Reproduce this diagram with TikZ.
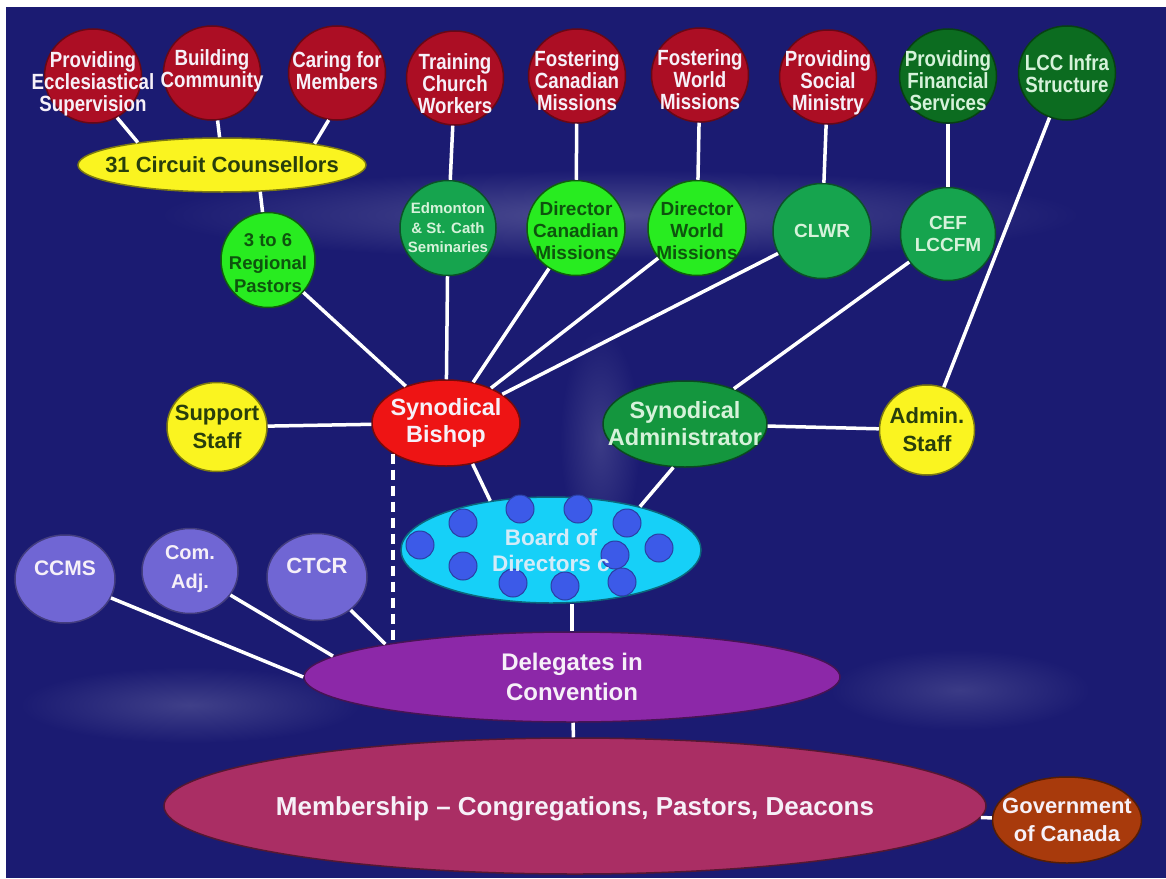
\documentclass[tikz,border=0pt]{standalone}
\usepackage{fontspec}
\setmainfont{Liberation Sans}
\newfontfamily\nar{Liberation Sans}[FakeStretch=0.85]
\usetikzlibrary{shapes.geometric,calc}
\definecolor{bg}{RGB}{27,27,114}
\definecolor{redc}{RGB}{172,14,36}
\definecolor{dkgreen}{RGB}{12,108,32}
\definecolor{yel}{RGB}{250,244,32}
\definecolor{brgreen}{RGB}{40,236,32}
\definecolor{mdgreen}{RGB}{22,164,78}
\definecolor{bishred}{RGB}{238,20,20}
\definecolor{admgreen}{RGB}{20,150,62}
\definecolor{cyanb}{RGB}{22,208,248}
\definecolor{dotc}{RGB}{60,90,232}
\definecolor{purc}{RGB}{112,102,212}
\definecolor{delc}{RGB}{140,40,168}
\definecolor{memc}{RGB}{170,46,100}
\definecolor{govc}{RGB}{168,58,12}
\definecolor{txw}{RGB}{246,240,248}
\definecolor{txpale}{RGB}{214,242,218}
\definecolor{txdk}{RGB}{14,84,14}
\definecolor{txyel}{RGB}{40,62,12}
\newcommand\ftop{\nar\bfseries\fontsize{22}{22}\selectfont}
\newcommand\fsec{\bfseries\fontsize{19}{22}\selectfont}
\newcommand\fedm{\bfseries\fontsize{15}{19.5}\selectfont}
\newcommand\fmid{\bfseries\fontsize{23.5}{27}\selectfont}
\newcommand\fstaff{\bfseries\fontsize{22}{28}\selectfont}
\tikzset{
  bub/.style={ellipse, inner sep=0pt, line width=1.5pt},
  lbl/.style={align=center, inner sep=0pt},
  conn/.style={draw=white, line width=3.5pt},
  dotstyle/.style={fill=dotc, draw=dotc!70!black, line width=1pt},
}
\begin{document}
\begin{tikzpicture}[x=1pt,y=-1pt]
\useasboundingbox (0,0) rectangle (1166,878);
\fill[white] (0,0) rectangle (1166,878);
\fill[bg] (6,7) rectangle (1166,878);
% faint background glows
\shade[inner color=bg!78!white, outer color=bg] (620,215) ellipse (460 and 45);
\shade[inner color=bg!84!white, outer color=bg] (190,705) ellipse (170 and 38);
\shade[inner color=bg!86!white, outer color=bg] (960,690) ellipse (130 and 40);
\shade[inner color=bg!86!white, outer color=bg] (600,440) ellipse (40 and 110);

% top row
\node[bub, fill=redc, draw=redc!60!black, minimum width=97, minimum height=94,
  label={[lbl,text=txw,font=\ftop,yshift=-8pt]center:{Providing\\Ecclesiastical\\Supervision}}] (pes) at (93,76) {};
\node[bub, fill=redc, draw=redc!60!black, minimum width=97, minimum height=94,
  label={[lbl,text=txw,font=\ftop,yshift=2pt]center:{Building\\Community}}] (bc) at (212,73) {};
\node[bub, fill=redc, draw=redc!60!black, minimum width=97, minimum height=94,
  label={[lbl,text=txw,font=\ftop,yshift=2pt]center:{Caring for\\Members}}] (cfm) at (337,73) {};
\node[bub, fill=redc, draw=redc!60!black, minimum width=97, minimum height=94,
  label={[lbl,text=txw,font=\ftop,yshift=-6pt]center:{Training\\Church\\Workers}}] (tcw) at (455,78) {};
\node[bub, fill=redc, draw=redc!60!black, minimum width=97, minimum height=94,
  label={[lbl,text=txw,font=\ftop,yshift=-5pt]center:{Fostering\\Canadian\\Missions}}] (fcm) at (577,76) {};
\node[bub, fill=redc, draw=redc!60!black, minimum width=97, minimum height=94,
  label={[lbl,text=txw,font=\ftop,yshift=-5pt]center:{Fostering\\World\\Missions}}] (fwm) at (700,75) {};
\node[bub, fill=redc, draw=redc!60!black, minimum width=97, minimum height=94,
  label={[lbl,text=txw,font=\ftop,yshift=-6pt]center:{Providing\\Social\\Ministry}}] (psm) at (828,77) {};
\node[bub, fill=dkgreen, draw=dkgreen!60!black, minimum width=97, minimum height=94,
  label={[lbl,text=txpale,font=\ftop,yshift=-5pt]center:{Providing\\Financial\\Services}}] (pfs) at (948,76) {};
\node[bub, fill=dkgreen, draw=dkgreen!60!black, minimum width=97, minimum height=94,
  label={[lbl,text=txpale,font=\ftop,yshift=-1pt]center:{LCC Infra\\Structure}}] (lcc) at (1067,73) {};

% circuit counsellors
\node[bub, fill=yel, draw=yel!50!black, minimum width=288, minimum height=54,
  label={[lbl,text=txyel,font=\bfseries\fontsize{22}{22}\selectfont]center:{31 Circuit Counsellors}}] (ccs) at (222,165) {};

% second row
\node[bub, fill=brgreen, draw=brgreen!40!black, minimum width=94, minimum height=95,
  label={[lbl,text=txdk,font=\bfseries\fontsize{18.5}{23}\selectfont,yshift=-3pt]center:{3 to 6\\Regional\\Pastors}}] (rp) at (268,260) {};
\node[bub, fill=mdgreen, draw=mdgreen!50!black, minimum width=96, minimum height=95,
  label={[lbl,text=txpale,font=\fedm]center:{Edmonton\\\& St. Cath\\Seminaries}}] (edm) at (448,228) {};
\node[bub, fill=brgreen, draw=brgreen!40!black, minimum width=98, minimum height=95,
  label={[lbl,text=txdk,font=\fsec,yshift=-3pt]center:{Director\\Canadian\\Missions}}] (dcm) at (576,228) {};
\node[bub, fill=brgreen, draw=brgreen!40!black, minimum width=98, minimum height=95,
  label={[lbl,text=txdk,font=\fsec,yshift=-3pt]center:{Director\\World\\Missions}}] (dwm) at (697,228) {};
\node[bub, fill=mdgreen, draw=mdgreen!50!black, minimum width=98, minimum height=95,
  label={[lbl,text=txpale,font=\fsec]center:{CLWR}}] (clwr) at (822,231) {};
\node[bub, fill=mdgreen, draw=mdgreen!50!black, minimum width=95, minimum height=93,
  label={[lbl,text=txpale,font=\fsec]center:{CEF\\LCCFM}}] (cef) at (948,234) {};

% middle row
\node[bub, fill=yel, draw=yel!50!black, minimum width=100, minimum height=89,
  label={[lbl,text=txyel,font=\fstaff]center:{Support\\Staff}}] (sstaff) at (217,427) {};
\node[bub, fill=bishred, draw=bishred!50!black, minimum width=148, minimum height=86,
  label={[lbl,text=txw,font=\fmid]center:{Synodical\\Bishop}}] (bishop) at (446,423) {};
\node[bub, fill=admgreen, draw=admgreen!50!black, minimum width=164, minimum height=86,
  label={[lbl,text=txpale,font=\fmid]center:{Synodical\\Administrator}}] (admin) at (685,424) {};
\node[bub, fill=yel, draw=yel!50!black, minimum width=95, minimum height=90,
  label={[lbl,text=txyel,font=\fstaff]center:{Admin.\\Staff}}] (astaff) at (927,430) {};

% board
\node[bub, fill=cyanb, draw=cyanb!50!black, minimum width=300, minimum height=106] (board) at (551,550) {};
\foreach \p in {(420,545),(463,523),(463,566),(520,509),(578,509),(627,523),(659,548),(615,555),(513,583),(565,586),(622,582)}
  \fill[dotstyle] \p circle (14);
\node[lbl, text=txw!85!cyanb, font=\bfseries\fontsize{22.5}{26}\selectfont] (boardtext) at (551,550) {Board of\\Directors c};

% left purple circles
\node[bub, fill=purc, draw=purc!60!black, minimum width=100, minimum height=88,
  label={[lbl,text=txw,font=\bfseries\fontsize{21}{21}\selectfont,yshift=11pt]center:{CCMS}}] (ccms) at (65,579) {};
\node[bub, fill=purc, draw=purc!60!black, minimum width=96, minimum height=85,
  label={[lbl,text=txw,font=\bfseries\fontsize{20}{29}\selectfont,yshift=2pt]center:{Com.\\Adj.}}] (comadj) at (190,571) {};
\node[bub, fill=purc, draw=purc!60!black, minimum width=100, minimum height=87,
  label={[lbl,text=txw,font=\bfseries\fontsize{22}{22}\selectfont,yshift=11pt]center:{CTCR}}] (ctcr) at (317,577) {};

% bottom
\node[bub, fill=delc, draw=delc!50!black, minimum width=536, minimum height=90,
  label={[lbl,text=txw,font=\bfseries\fontsize{24}{30}\selectfont]center:{Delegates in\\Convention}}] (del) at (572,677) {};
\node[bub, fill=memc, draw=memc!50!black, minimum width=822, minimum height=136,
  label={[lbl,text=txw,font=\bfseries\fontsize{26}{26}\selectfont,yshift=-3pt]center:{Membership -- Congregations, Pastors, Deacons}}] (mem) at (575,806) {};
\node[bub, fill=govc, draw=govc!50!black, minimum width=149, minimum height=86,
  label={[lbl,text=txw,font=\bfseries\fontsize{22}{28}\selectfont]center:{Government\\of Canada}}] (gov) at (1067,820) {};

\coordinate (dashend) at (391,640);

% connectors
\draw[conn] (pes.-60) -- (ccs.165);
\draw[conn] (bc) -- (ccs.95);
\draw[conn] (cfm.-100) -- (ccs.13);
\draw[conn] (ccs.-35) -- (rp);
\draw[conn] (tcw) -- (edm);
\draw[conn] (fcm) -- (dcm);
\draw[conn] (fwm) -- (dwm);
\draw[conn] (psm) -- (clwr);
\draw[conn] (pfs) -- (cef);
\draw[conn] (lcc) -- (astaff);
\draw[conn] (rp) -- (bishop);
\draw[conn] (edm) -- (bishop);
\draw[conn] (dcm) -- (bishop);
\draw[conn] (dwm) -- (bishop);
\draw[conn] (clwr) -- (bishop);
\draw[conn] (cef) -- (admin);
\draw[conn] (sstaff) -- (bishop);
\draw[conn] (admin) -- (astaff);
\draw[conn] (bishop.-57) -- (board.141);
\draw[conn] (admin.-105) -- (board.26);
\draw[conn] (board.south -| del.north) -- (del.north);
\draw[conn] (del) -- (mem);
\draw[conn] (mem) -- (gov);
\draw[conn] (ccms) -- (del.west);
\draw[conn] (comadj) -- (del.175);
\draw[conn] (ctcr) -- (del.170);
\draw[conn, dash pattern=on 10pt off 6pt] (bishop.210) -- (bishop.210 |- dashend);
\end{tikzpicture}
\end{document}
